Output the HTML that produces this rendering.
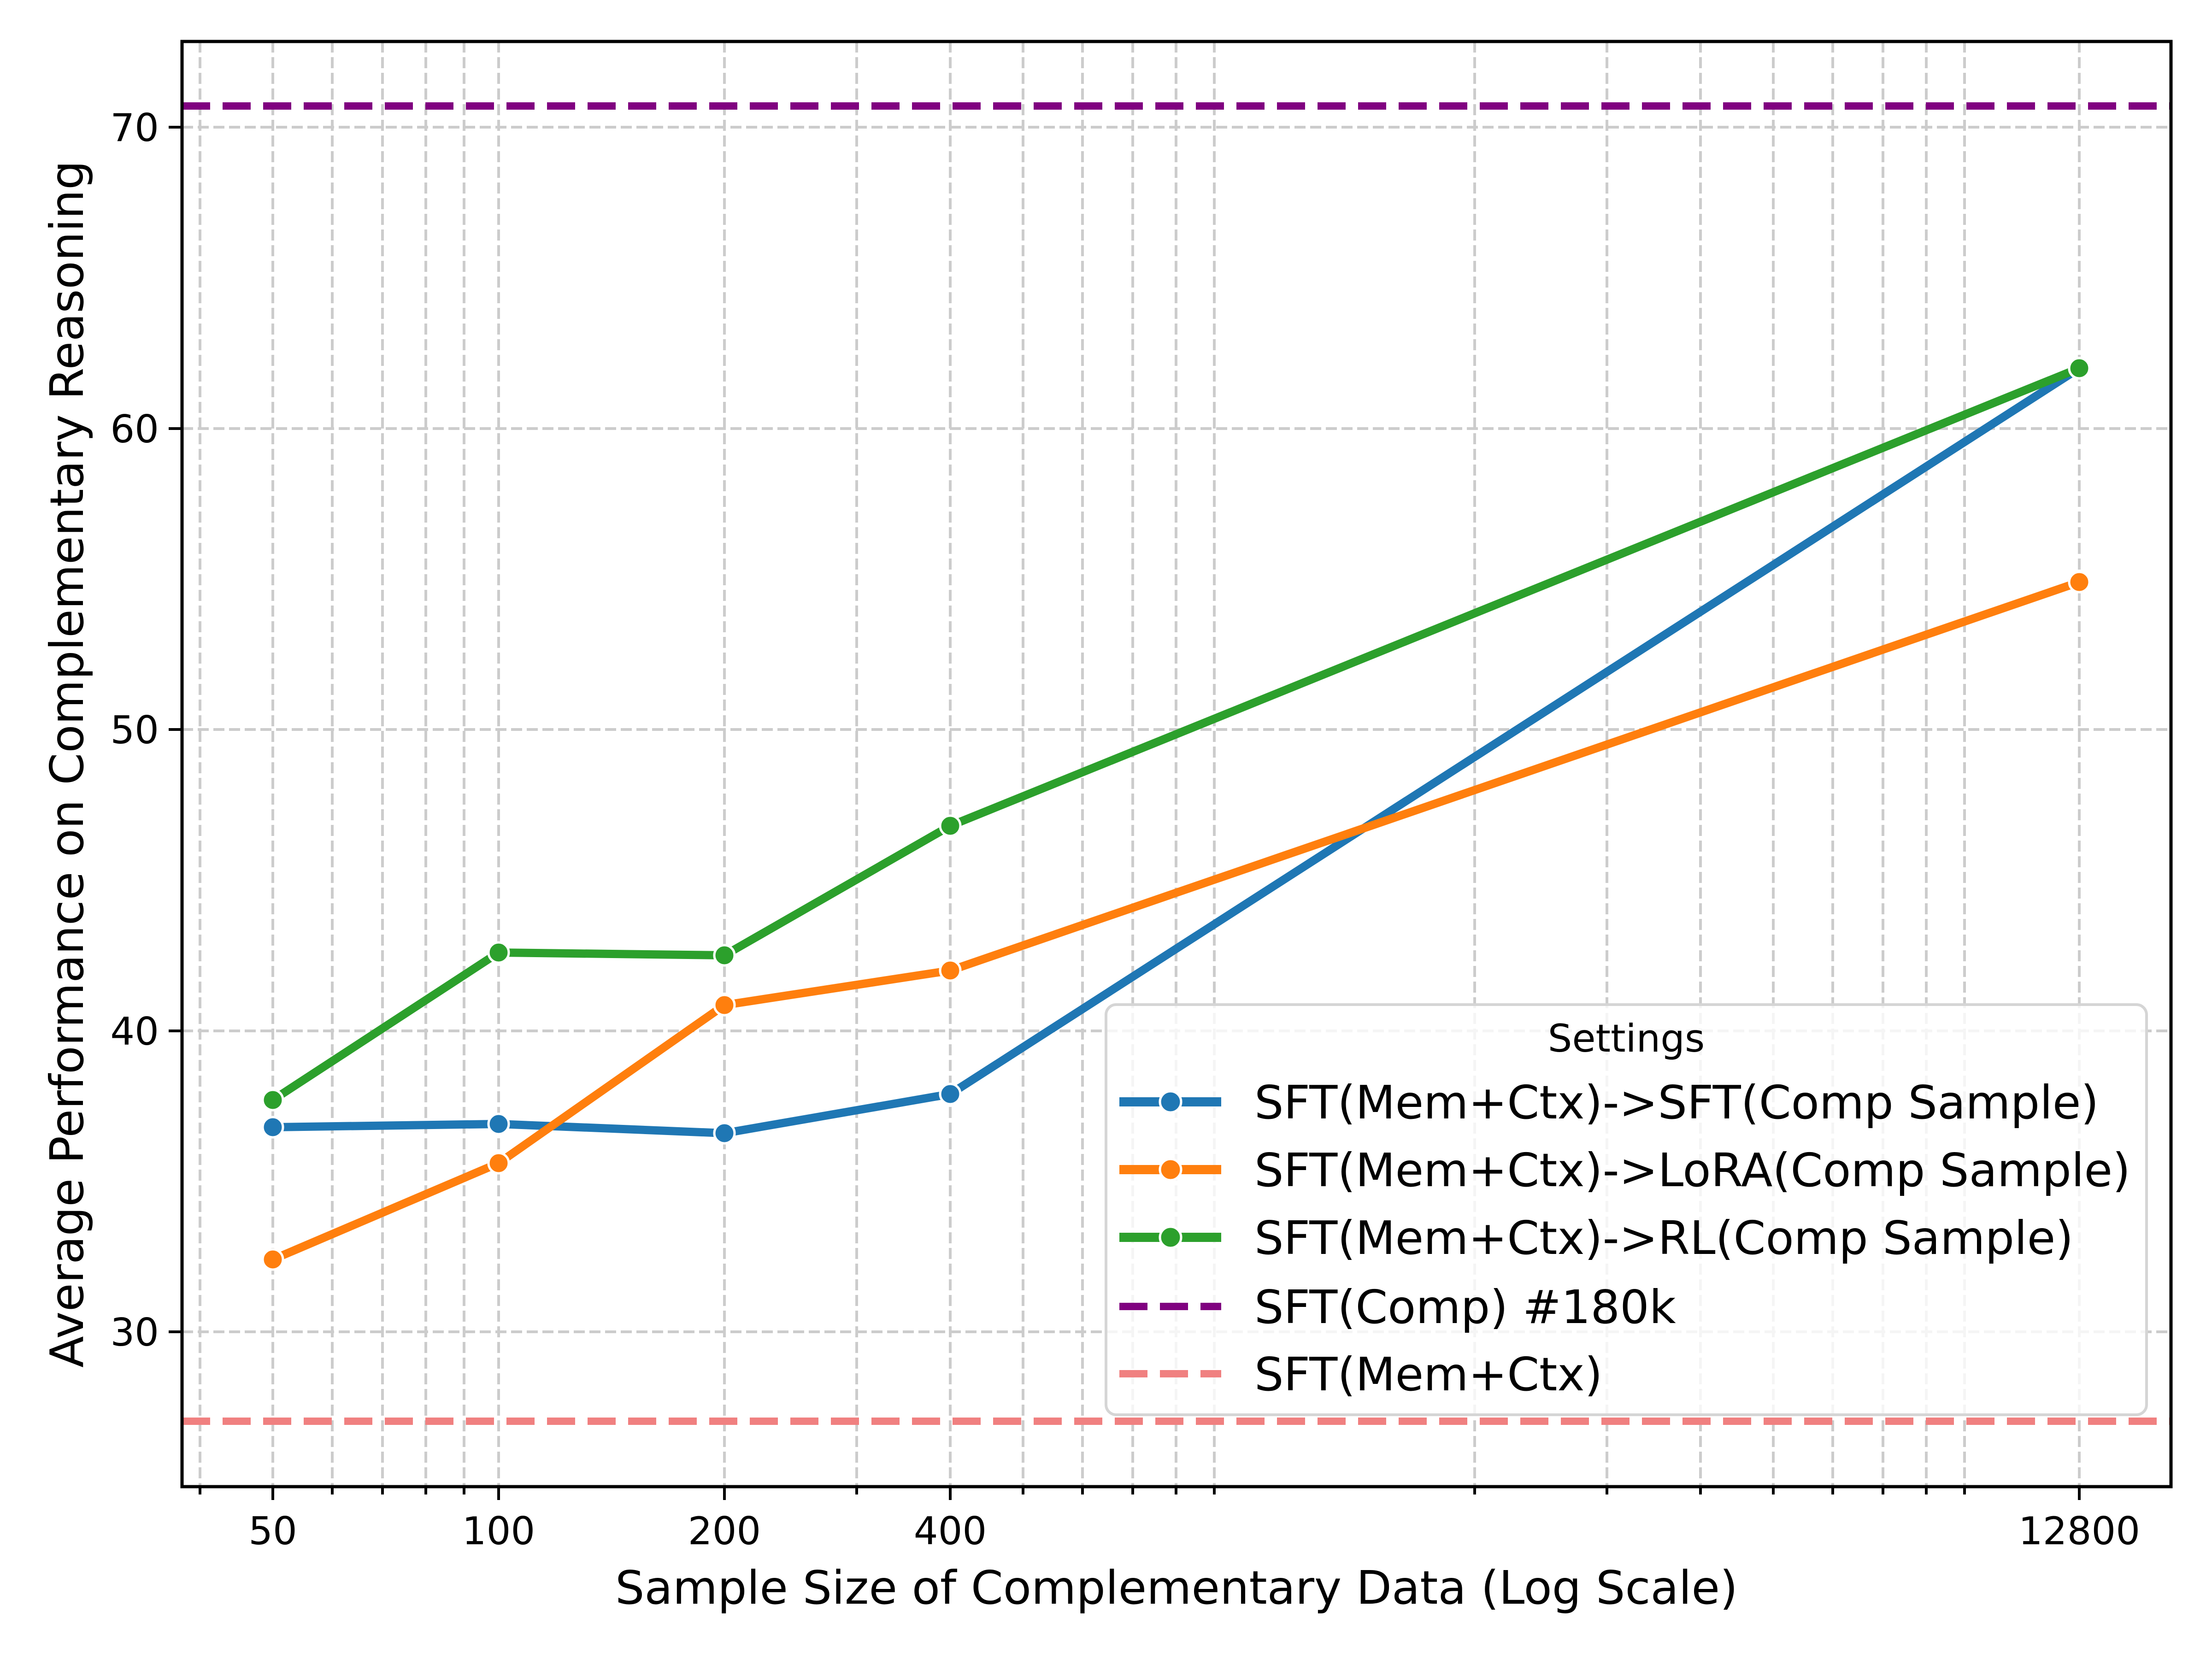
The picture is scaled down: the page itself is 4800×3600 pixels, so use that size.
<!DOCTYPE html>
<html><head><meta charset="utf-8"><style>html,body{margin:0;padding:0;background:#fff}svg{display:block}</style></head>
<body>
<svg width="4800" height="3600" viewBox="0 0 4800 3600" xmlns="http://www.w3.org/2000/svg" font-family="'DejaVu Sans','Liberation Sans',sans-serif">
<rect width="4800" height="3600" fill="#fff"/>
<defs><clipPath id="c"><rect x="395" y="90" width="4316" height="3136"/></clipPath></defs>
<g clip-path="url(#c)">
<g stroke="#cccccc" stroke-width="6" stroke-dasharray="24 10" fill="none">
<path d="M434 90V3226M721 90V3226M830 90V3226M924 90V3226M1007 90V3226M1859 90V3226M2220 90V3226M2349 90V3226M2458 90V3226M2552 90V3226M2635 90V3226M3200 90V3226M3487 90V3226M3690 90V3226M3848 90V3226M3977 90V3226M4086 90V3226M4180 90V3226M4263 90V3226"/>
<path d="M592 90V3226M1082 90V3226M1572 90V3226M2062 90V3226M4512 90V3226"/>
<path d="M395 2890H4711M395 2237H4711M395 1583H4711M395 930H4711M395 276H4711"/>
</g>
<path d="M395 230H4711" stroke="#800080" stroke-width="16" stroke-dasharray="61 27"/>
<path d="M395 3084H4711" stroke="#f08080" stroke-width="16" stroke-dasharray="61 27"/>
<g fill="none" stroke-width="18" stroke-linejoin="round" stroke-linecap="round">
<polyline stroke="#1f77b4" points="592,2446 1082,2439 1572,2459 2062,2374 4512,799"/>
<polyline stroke="#ff7f0e" points="592,2733 1082,2524 1572,2181 2062,2106 4512,1263"/>
<polyline stroke="#2ca02c" points="592,2387 1082,2067 1572,2073 2062,1792 4512,799"/>
</g>
<g stroke="#fff" stroke-width="5">
<g fill="#1f77b4"><circle cx="592" cy="2446" r="22"/><circle cx="1082" cy="2439" r="22"/><circle cx="1572" cy="2459" r="22"/><circle cx="2062" cy="2374" r="22"/><circle cx="4512" cy="799" r="22"/></g>
<g fill="#ff7f0e"><circle cx="592" cy="2733" r="22"/><circle cx="1082" cy="2524" r="22"/><circle cx="1572" cy="2181" r="22"/><circle cx="2062" cy="2106" r="22"/><circle cx="4512" cy="1263" r="22"/></g>
<g fill="#2ca02c"><circle cx="592" cy="2387" r="22"/><circle cx="1082" cy="2067" r="22"/><circle cx="1572" cy="2073" r="22"/><circle cx="2062" cy="1792" r="22"/><circle cx="4512" cy="799" r="22"/></g>
</g>
</g>
<!-- legend -->
<rect x="2400" y="2180" width="2258" height="890" rx="22" fill="#fff" fill-opacity="0.8" stroke="#d5d5d5" stroke-width="6"/>
<text x="3529" y="2282" font-size="83" text-anchor="middle">Settings</text>
<g stroke-width="20">
<path d="M2429 2391H2650" stroke="#1f77b4"/>
<path d="M2429 2538H2650" stroke="#ff7f0e"/>
<path d="M2429 2685H2650" stroke="#2ca02c"/>
<path d="M2429 2835H2650" stroke="#800080" stroke-width="16" stroke-dasharray="61 27"/>
<path d="M2429 2981H2650" stroke="#f08080" stroke-width="16" stroke-dasharray="61 27"/>
</g>
<g stroke="#fff" stroke-width="5"><circle cx="2540" cy="2391" r="23" fill="#1f77b4"/><circle cx="2540" cy="2538" r="23" fill="#ff7f0e"/><circle cx="2540" cy="2685" r="23" fill="#2ca02c"/></g>
<g font-size="100">
<text x="2722" y="2427">SFT(Mem+Ctx)-&gt;SFT(Comp Sample)</text>
<text x="2722" y="2574">SFT(Mem+Ctx)-&gt;LoRA(Comp Sample)</text>
<text x="2722" y="2721">SFT(Mem+Ctx)-&gt;RL(Comp Sample)</text>
<text x="2722" y="2871">SFT(Comp) #180k</text>
<text x="2722" y="3017">SFT(Mem+Ctx)</text>
</g>
<!-- axes -->
<rect x="395" y="90" width="4316" height="3136" fill="none" stroke="#000" stroke-width="7"/>
<g stroke="#000" stroke-width="6">
<path d="M592 3226v29M1082 3226v29M1572 3226v29M2062 3226v29M4512 3226v29"/>
<path d="M434 3226v17M721 3226v17M830 3226v17M924 3226v17M1007 3226v17M1859 3226v17M2220 3226v17M2349 3226v17M2458 3226v17M2552 3226v17M2635 3226v17M3200 3226v17M3487 3226v17M3690 3226v17M3848 3226v17M3977 3226v17M4086 3226v17M4180 3226v17M4263 3226v17"/>
<path d="M395 2890h-29M395 2237h-29M395 1583h-29M395 930h-29M395 276h-29"/>
</g>
<g font-size="83" text-anchor="middle">
<text x="592" y="3351">50</text><text x="1082" y="3351">100</text><text x="1572" y="3351">200</text><text x="2062" y="3351">400</text><text x="4512" y="3351">12800</text>
</g>
<g font-size="83" text-anchor="end">
<text x="345" y="2920">30</text><text x="345" y="2267">40</text><text x="345" y="1613">50</text><text x="345" y="960">60</text><text x="345" y="306">70</text>
</g>
<text x="2553" y="3480" font-size="100" text-anchor="middle">Sample Size of Complementary Data (Log Scale)</text>
<text transform="translate(180,1658) rotate(-90)" font-size="100" text-anchor="middle">Average Performance on Complementary Reasoning</text>
</svg>
</body></html>
